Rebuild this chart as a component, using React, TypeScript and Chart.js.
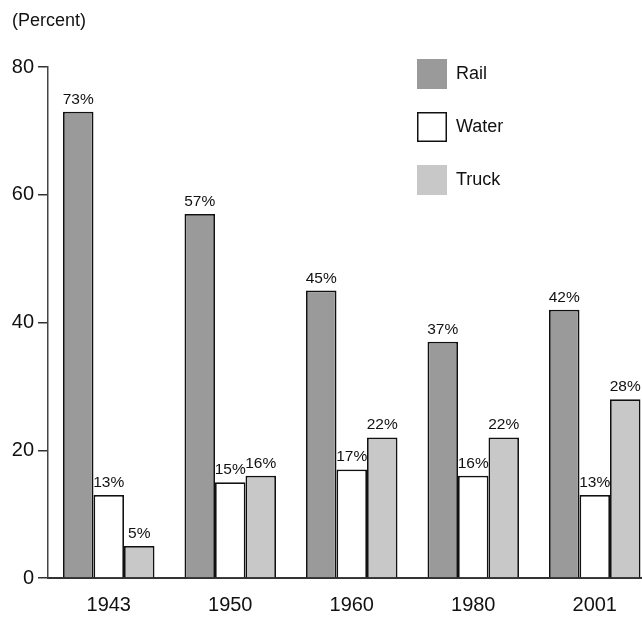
import React, { useEffect, useRef } from "react";
import { Chart, registerables } from "chart.js";

Chart.register(...registerables);

const years = ["1943", "1950", "1960", "1980", "2001"];
const rail = [73, 57, 45, 37, 42];
const water = [13, 15, 17, 16, 13];
const truck = [5, 16, 22, 22, 28];
const yTicks = [0, 20, 40, 60, 80];
const unitLabel = "(Percent)";

const FONT = "'Liberation Sans', Arial, Helvetica, sans-serif";

const overlayPlugin = {
  id: "overlay",
  afterDatasetsDraw(chart: any) {
    const ctx = chart.ctx;
    ctx.save();
    // value labels
    ctx.fillStyle = "#111";
    ctx.font = `15.5px ${FONT}`;
    ctx.textAlign = "center";
    ctx.textBaseline = "alphabetic";
    chart.data.datasets.forEach((ds: any, di: number) => {
      const meta = chart.getDatasetMeta(di);
      meta.data.forEach((el: any, i: number) => {
        ctx.fillText(`${ds.data[i]}%`, el.x, el.y - 8);
      });
    });
    // unit label
    ctx.textAlign = "left";
    ctx.textBaseline = "middle";
    ctx.font = `18px ${FONT}`;
    ctx.fillText(unitLabel, 12, 21);
    // legend
    chart.data.datasets.forEach((ds: any, di: number) => {
      const x = 417;
      const y = 59 + di * 53;
      ctx.fillStyle = ds.backgroundColor;
      ctx.fillRect(x, y, 30, 30);
      if (ds.legendStroke) {
        ctx.strokeStyle = "#111";
        ctx.lineWidth = 1.5;
        ctx.strokeRect(x + 0.75, y + 0.75, 28.5, 28.5);
      }
      ctx.fillStyle = "#111";
      ctx.font = `18px ${FONT}`;
      ctx.fillText(ds.label, 456, y + 15);
    });
    ctx.restore();
  },
};

export default function App() {
  const ref = useRef<HTMLCanvasElement>(null);
  useEffect(() => {
    if (!ref.current) return;
    const chart = new Chart(ref.current, {
      type: "bar",
      data: {
        labels: years,
        datasets: [
          { label: "Rail", data: rail, backgroundColor: "#9a9a9a", borderColor: "#111", borderWidth: 1.75 } as any,
          { label: "Water", data: water, backgroundColor: "#ffffff", borderColor: "#111", borderWidth: 1.75, legendStroke: true } as any,
          { label: "Truck", data: truck, backgroundColor: "#c8c8c8", borderColor: "#111", borderWidth: 1.75 } as any,
        ],
      },
      options: {
        animation: false,
        responsive: false,
        devicePixelRatio: 1,
        categoryPercentage: 0.753,
        barPercentage: 1.0,
        layout: { padding: { top: 67, right: 4.5, left: 0, bottom: 0 } },
        plugins: { legend: { display: false }, tooltip: { enabled: false } },
        scales: {
          x: {
            grid: { display: false, drawTicks: false },
            border: { display: true, color: "#333", width: 2 },
            ticks: { color: "#111", font: { family: FONT, size: 20 }, padding: 15 },
            afterFit: (s: any) => { s.height = 55; },
          },
          y: {
            min: 0,
            max: 80,
            afterBuildTicks: (s: any) => { s.ticks = yTicks.map((v) => ({ value: v })); },
            grid: { drawOnChartArea: false, drawTicks: true, tickLength: 10, color: "#333", lineWidth: 1.5 },
            border: { display: true, color: "#444", width: 1.5 },
            ticks: { color: "#111", font: { family: FONT, size: 20 }, padding: 4 },
            afterFit: (s: any) => { s.width = 48; },
          },
        },
      },
      plugins: [overlayPlugin],
    });
    return () => chart.destroy();
  }, []);
  return (
    <div style={{ position: "fixed", left: 0, top: 0, width: 642, height: 633, overflow: "hidden", background: "#fff" }}>
      <canvas ref={ref} width={660} height={633} style={{ width: 660, height: 633, display: "block" }} />
    </div>
  );
}
